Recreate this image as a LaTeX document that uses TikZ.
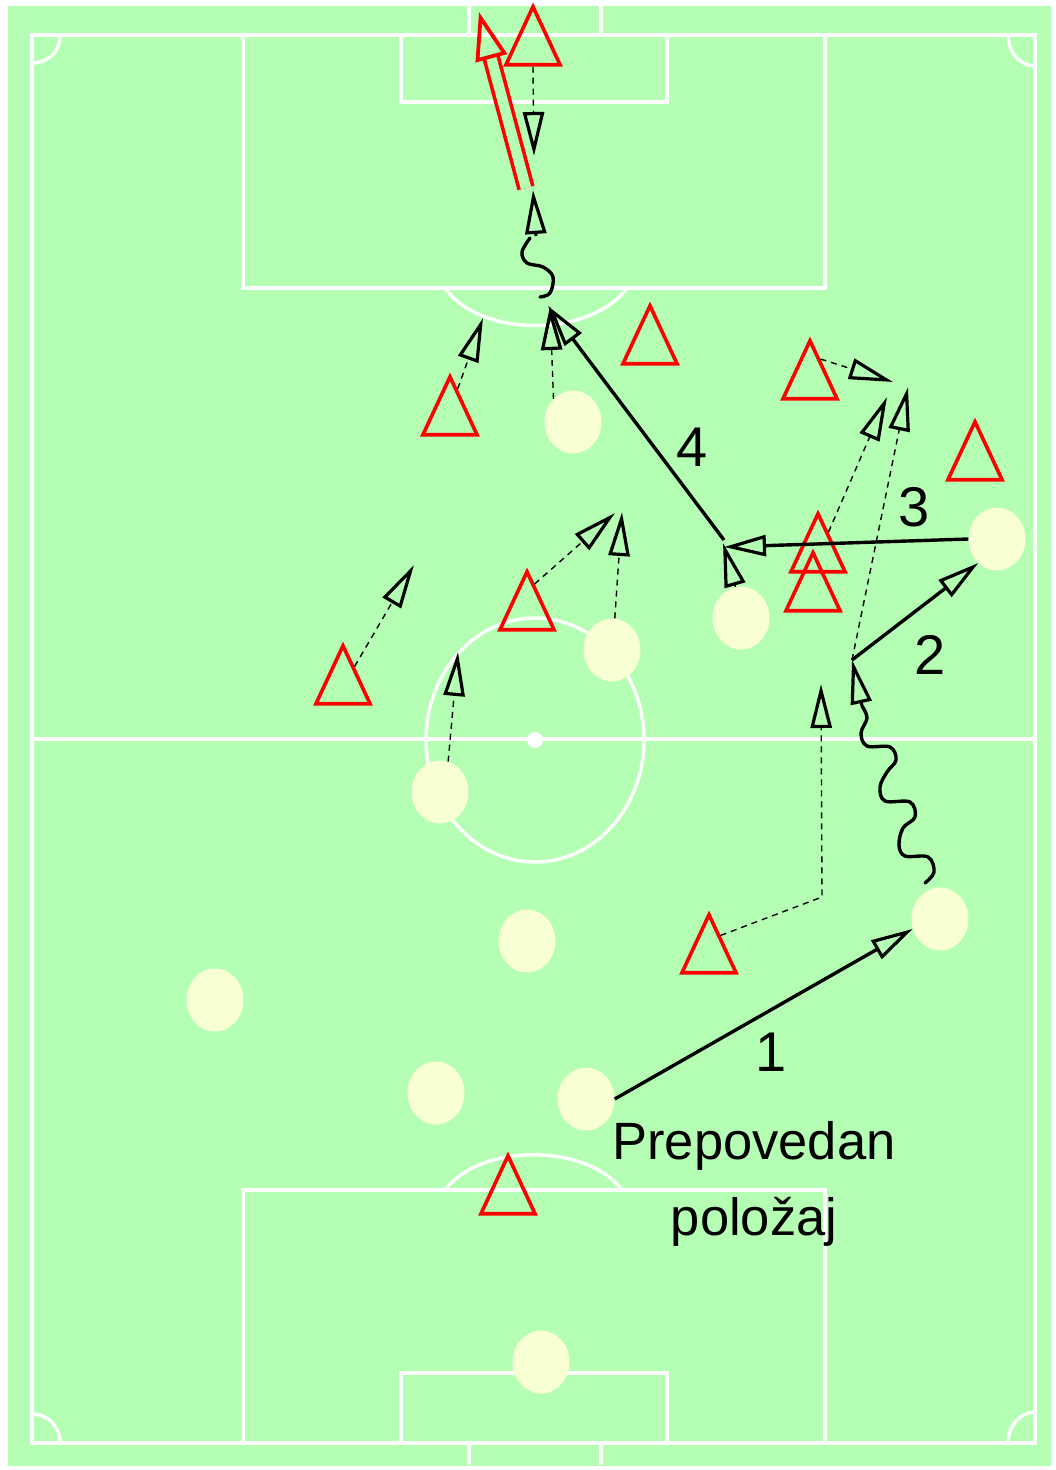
\documentclass[tikz,border=0pt]{standalone}
\usepackage{fontspec}
\setmainfont{Liberation Sans}
\usetikzlibrary{arrows.meta,shapes.geometric}
\definecolor{pitch}{RGB}{180,255,180}
\definecolor{cream}{RGB}{247,255,211}
\tikzset{
    chalk/.style={draw=white, line width=3.4pt},
    opp/.style={draw=red, line width=3.6pt, isosceles triangle, shape border rotate=90,
        isosceles triangle apex angle=50, isosceles triangle stretches=false,
        minimum height=58pt, inner sep=0pt, anchor=apex, yshift=3.5pt},
    mate/.style={fill=cream, ellipse, minimum width=57pt, minimum height=63pt, inner sep=0pt},
    run/.style={draw=black, line width=1.4pt, dash pattern=on 6pt off 5pt,
        -{Triangle[open, length=44pt, width=21pt, line width=3.2pt]}},
    pass/.style={draw=black, line width=3.4pt,
        -{Triangle[open, length=42pt, width=21pt, line width=3.2pt]}},
    dribble/.style={draw=black, line width=3.4pt, line cap=round},
    dribbletip/.style={draw=black, line width=3pt,
        -{Triangle[open, length=44pt, width=21pt, line width=3.2pt]}},
    shot/.style={draw=red, line width=3.6pt, double=pitch, double distance=10.5pt,
        -{Triangle[open, length=48pt, width=32pt, line width=3.8pt]}},
    txt/.style={font=\fontsize{52.5}{76}\selectfont, inner sep=0pt, align=center},
    numtxt/.style={font=\fontsize{56}{60}\selectfont, inner sep=0pt},
}
\begin{document}
\begin{tikzpicture}[x=1pt, y=-1pt]
    \useasboundingbox (0,0) rectangle (1055,1470);
    \fill[pitch] (8,6) rectangle (1051,1466);

    % Lines
    \draw[chalk] (32,35) rectangle (1035,1443);
    \draw[chalk] (32,739) -- (1035,739);
    \draw[chalk] (535,740) ellipse [x radius=109, y radius=122];
    \fill[white] (535,740) circle (8);
    \foreach \ya/\yb/\yc/\yd in {35/288/102/6, 1443/1190/1373/1465} {
        \draw[chalk] (243,\ya) rectangle (825,\yb);
        \draw[chalk] (401,\ya) rectangle (667,\yc);
        \draw[chalk] (469,\ya) -- (469,\yd) (601,\ya) -- (601,\yd);
    }
    \draw[chalk] (445,288) .. controls (480,338) and (590,338) .. (627,288);
    \draw[chalk] (445,1190) .. controls (480,1143) and (587,1143) .. (622,1190);
    % Corners
    \draw[chalk] (60,35) .. controls (60,52) and (48,63) .. (32,63);
    \draw[chalk] (1008,35) .. controls (1008,52) and (1020,66) .. (1035,66);
    \draw[chalk] (60,1443) .. controls (60,1426) and (48,1414) .. (32,1414);
    \draw[chalk] (1008,1443) .. controls (1008,1426) and (1020,1412) .. (1035,1412);

    % Players
    \foreach \n/\x/\y in {1/573/422, 2/741/618, 3/997/539, 4/612/650, 5/440/792, 6/940/919,
        7/527/941, 8/215/1000, 9/436/1093, 10/586/1099, 11/541/1362}
        \node[mate] (mate\n) at (\x,\y) {};

    % Opponents
    \foreach \n/\x/\y in {1/533/6, 2/650/305, 3/810/340, 4/450/376, 5/975/421, 6/818/513,
        7/813/552, 8/527/571, 9/343/645, 10/709/914, 11/508/1155}
        \node[opp] (opp\n) at (\x,\y) {};

    % Free ends
    \foreach \n/\x/\y in {a/534/156, b/483/318, c/550/306, d/723/543, e/887/397, f/908/387,
        g/893/382, h/615/513, i/622/512, j/414/565, k/458/652, l/821/684}
        \coordinate (end\n) at (\x,\y);
    \coordinate (turn) at (822,897);
    \coordinate (relaytwo) at (852,660);
    \coordinate (relaythree) at (724,547);
    \coordinate (relaythreeb) at (724,540);
    \coordinate (relayfour) at (548,306);
    \coordinate (shotfrom) at (526,188);
    \coordinate (shotto) at (479,12);
    \coordinate (wavetop) at (536,236);
    \coordinate (wavetoptip) at (533,190);
    \coordinate (wavelow) at (862,706);

    % Runs without the ball
    \draw[run] (opp1.south) -- (enda);
    \draw[run] (opp4.75) -- (endb);
    \draw[run] (mate1.130) -- (endc);
    \draw[run] (mate2.100) -- (endd);
    \draw[run] (opp6.65) -- (ende);
    \draw[run] (relaytwo) -- (endf);
    \draw[run] (opp3.65) -- (endg);
    \draw[run] (opp8.75) -- (endh);
    \draw[run] (mate4.85) -- (endi);
    \draw[run] (opp9.60) -- (endj);
    \draw[run] (mate5.75) -- (endk);
    \draw[run] (opp10.60) -- (turn) -- (endl);

    % Passes
    \draw[pass] (mate10.east) -- (mate6.200);
    \draw[pass] (relaytwo) -- (mate3.232);
    \draw[pass] (mate3.west) -- (relaythree);
    \draw[pass] (relaythreeb) -- (relayfour);

    % Dribbles
    \draw[dribble] plot[smooth, tension=0.6] coordinates {(925,883) (934,872) (928,857) (905,856)
        (899,845) (903,828) (915,817) (910,802) (885,801) (880,787) (887,772) (896,760) (890,747)
        (867,746) (861,733) (867,718) (862,706)};
    \draw[dribbletip] (wavelow) -- (relaytwo);
    \draw[dribble] plot[smooth, tension=0.6] coordinates {(540,297) (550,293) (553,277) (543,267)
        (527,263) (522,252) (530,238)};
    \draw[dribbletip] (wavetop) -- (wavetoptip);

    % Shot
    \draw[shot] (shotfrom) -- (shotto);

    % Labels
    \node[numtxt] (numone) at (771,1052) {1};
    \node[numtxt] (numtwo) at (930,655) {2};
    \node[numtxt] (numthree) at (914,507) {3};
    \node[numtxt] (numfour) at (692,447) {4};
    \node[txt] (offside) at (754,1184) {Prepovedan\\polo\v{z}aj};
\end{tikzpicture}
\end{document}
